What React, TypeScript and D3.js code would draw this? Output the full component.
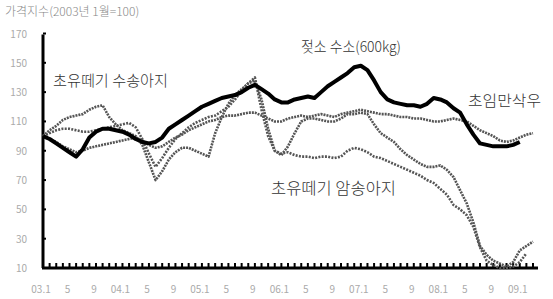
import { useEffect, useRef } from "react";
import * as d3 from "d3";

// 2003.1 = month 0
const bullValues = [
  100, 98, 95, 92, 89, 86, 91, 99, 103, 105, 105, 104, 103, 101, 98, 96, 95, 96,
  99, 105, 108, 111, 114, 117, 120, 122, 124, 126, 127, 128, 130, 133, 135, 132,
  129, 125, 123, 123, 125, 126, 127, 126, 130, 134, 137, 140, 143, 147, 148, 145,
  138, 130, 125, 123, 122, 121, 121, 120, 122, 126, 125, 123, 119, 116, 108, 101,
  95, 94, 93, 93, 93, 94, 96,
];
const heiferValues = [
  100, 98, 96, 93, 91, 89, 90, 92, 93, 94, 95, 96, 97, 98, 99, 97, 94, 92, 93,
  96, 99, 101, 104, 106, 108, 110, 111, 113, 114, 114, 115, 116, 116, 114, 112,
  110, 110, 112, 113, 114, 113, 114, 115, 114, 113, 115, 116, 117, 118, 117, 116,
  115, 115, 114, 113, 113, 112, 112, 111, 110, 110, 111, 112, 111, 110, 107, 104,
  102, 100, 97, 96, 97, 99, 101, 102,
];
const maleCalfValues = [
  100, 104, 107, 111, 113, 114, 115, 118, 120, 121, 113, 108, 104, 102, 100, 94,
  82, 70, 76, 84, 89, 92, 92, 90, 88, 86, 102, 113, 122, 128, 132, 136, 138, 125,
  105, 90, 87, 93, 102, 110, 112, 112, 111, 110, 110, 112, 115, 115, 116, 115,
  108, 102, 99, 96, 91, 87, 84, 81, 79, 79, 80, 77, 72, 63, 54, 41, 25, 19, 15,
  13, 11, 14, 22, 25, 28,
];
const femaleCalfValues = [
  100, 102, 104, 105, 105, 104, 103, 103, 104, 105, 106, 107, 108, 109, 106, 98,
  88, 79, 85, 92, 98, 102, 106, 109, 111, 113, 114, 117, 120, 125, 131, 136, 140,
  118, 100, 90, 88, 89, 87, 86, 86, 85, 86, 86, 85, 86, 90, 92, 91, 89, 86, 85,
  83, 81, 79, 77, 75, 73, 70, 68, 64, 60, 53, 50, 46, 38, 24, 15, 12, 10, 10, 11,
  14, 20,
];

const yTicks = [10, 30, 50, 70, 90, 110, 130, 150, 170];
const xTickLabels = [
  "03.1", "5", "9", "04.1", "5", "9", "05.1", "5", "9", "06.1", "5", "9",
  "07.1", "5", "9", "08.1", "5", "9", "09.1",
];

const App = () => {
  const ref = useRef<SVGSVGElement>(null);

  useEffect(() => {
    document.body.style.margin = "0";
    const svg = d3.select(ref.current);
    svg.selectAll("*").remove();

    const x = d3.scaleLinear().domain([0, 74]).range([43, 533]);
    const y = d3.scaleLinear().domain([10, 170]).range([268, 33.5]);
    const font = "'Noto Sans CJK KR', 'Noto Sans', sans-serif";

    svg
      .append("text")
      .attr("x", 5)
      .attr("y", 16)
      .attr("fill", "#888")
      .style("font-size", "12px")
      .style("font-weight", 300)
      .style("font-family", font)
      .text("가격지수(2003년 1월=100)");

    // y axis
    const yAxis = svg.append("g");
    yAxis
      .append("line")
      .attr("x1", 43)
      .attr("x2", 43)
      .attr("y1", y(170) + 1)
      .attr("y2", y(10))
      .attr("stroke", "#000")
      .attr("stroke-width", 3);
    yTicks.forEach((t) => {
      yAxis
        .append("line")
        .attr("x1", 43)
        .attr("x2", 46)
        .attr("y1", y(t))
        .attr("y2", y(t))
        .attr("stroke", "#000")
        .attr("stroke-width", 2);
      yAxis
        .append("text")
        .attr("x", 27)
        .attr("y", y(t) + 4)
        .attr("text-anchor", "end")
        .attr("fill", "#aaa")
        .style("font-size", "10px")
        .style("font-family", font)
        .text(t);
    });

    // x axis
    const xAxis = svg.append("g");
    xAxis
      .append("line")
      .attr("x1", 42)
      .attr("x2", 538)
      .attr("y1", y(10))
      .attr("y2", y(10))
      .attr("stroke", "#000")
      .attr("stroke-width", 3);
    d3.range(0, 75).forEach((m) => {
      xAxis
        .append("line")
        .attr("x1", x(m))
        .attr("x2", x(m))
        .attr("y1", y(10))
        .attr("y2", y(10) - 5)
        .attr("stroke", "#000")
        .attr("stroke-width", 2);
    });
    xTickLabels.forEach((lab, i) => {
      xAxis
        .append("text")
        .attr("x", x(i * 4) - 2)
        .attr("y", 293)
        .attr("text-anchor", "middle")
        .attr("fill", "#aaa")
        .style("font-size", "10px")
        .style("font-family", font)
        .text(lab);
    });

    const line = d3
      .line<number>()
      .x((_, i) => x(i))
      .y((d) => y(d));

    const drawDotted = (values: number[], dash: string) => {
      svg
        .append("path")
        .attr("d", line(values) as string)
        .attr("fill", "none")
        .attr("stroke", "#555")
        .attr("stroke-width", 2.6)
        .attr("stroke-dasharray", dash)
        .attr("stroke-linejoin", "round");
    };
    drawDotted(heiferValues, "2 1");
    drawDotted(maleCalfValues, "2 1");
    drawDotted(femaleCalfValues, "2 1.3");

    svg
      .append("path")
      .attr("d", line(bullValues) as string)
      .attr("fill", "none")
      .attr("stroke", "#000")
      .attr("stroke-width", 4)
      .attr("stroke-linejoin", "round");

    // text, x, baseline y, font size, width
    const labels: [string, number, number, number, number][] = [
      ["젖소 수소(600kg)", 301, 52, 14.5, 100],
      ["초유떼기 수송아지", 53, 86, 15, 115],
      ["초임만삭우", 468, 106, 15, 73],
      ["초유떼기 암송아지", 271, 194, 15.5, 125],
    ];
    labels.forEach(([t, lx, ly, fs, w]) => {
      svg
        .append("text")
        .attr("x", lx)
        .attr("y", ly)
        .attr("fill", "#333")
        .attr("textLength", w)
        .attr("lengthAdjust", "spacingAndGlyphs")
        .style("font-size", `${fs}px`)
        .style("font-weight", 300)
        .style("font-family", font)
        .text(t);
    });
  }, []);

  return <svg ref={ref} width={553} height={299} style={{ display: "block" }} />;
};

export default App;
